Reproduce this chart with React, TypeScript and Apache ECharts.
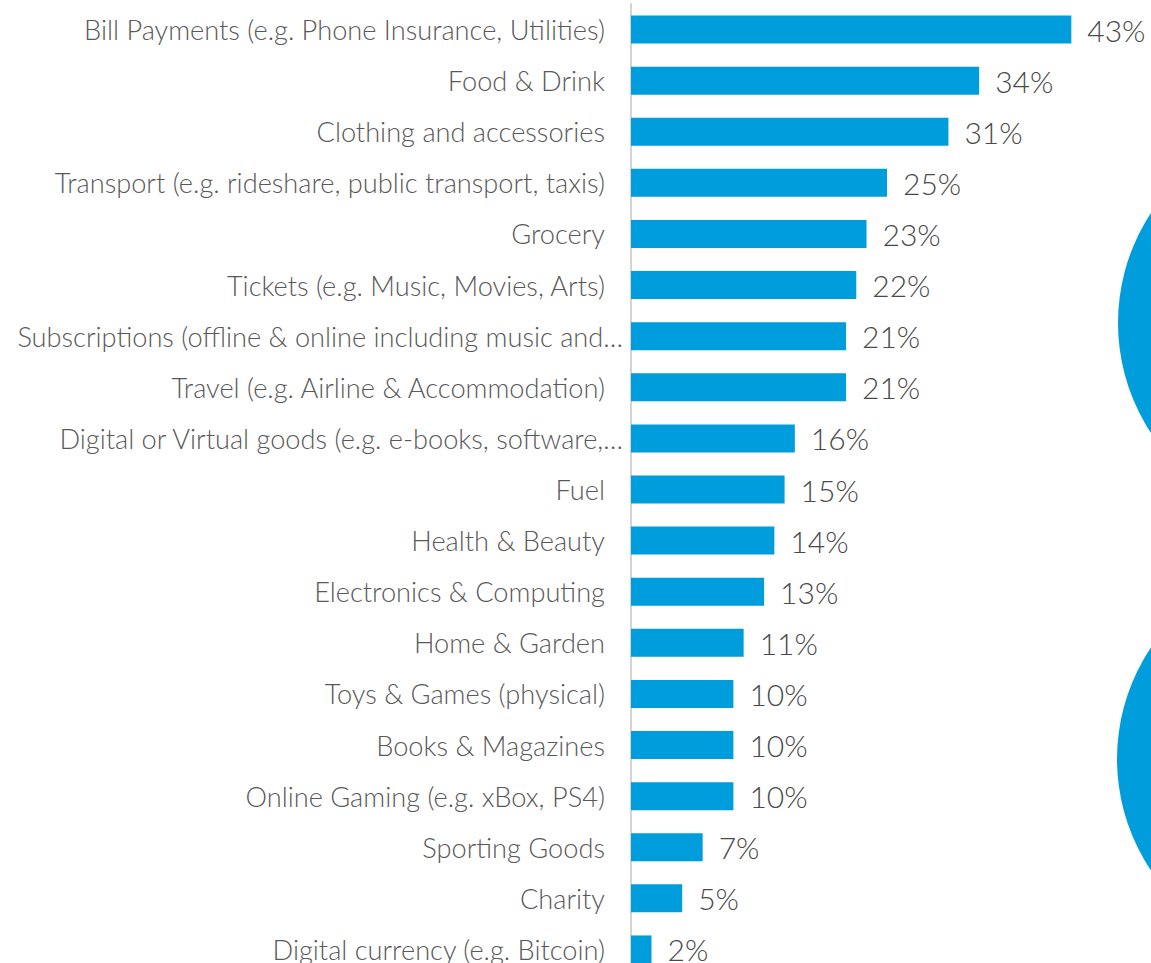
import React, { useEffect, useRef } from "react";
import * as echarts from "echarts";

const categories = [
  "Bill Payments (e.g. Phone Insurance, Utilities)",
  "Food & Drink",
  "Clothing and accessories",
  "Transport (e.g. rideshare, public transport, taxis)",
  "Grocery",
  "Tickets (e.g. Music, Movies, Arts)",
  "Subscriptions (offline & online including music and…",
  "Travel (e.g. Airline & Accommodation)",
  "Digital or Virtual goods (e.g. e-books, software,…",
  "Fuel",
  "Health & Beauty",
  "Electronics & Computing",
  "Home & Garden",
  "Toys & Games (physical)",
  "Books & Magazines",
  "Online Gaming (e.g. xBox, PS4)",
  "Sporting Goods",
  "Charity",
  "Digital currency (e.g. Bitcoin)",
];

const values = [43, 34, 31, 25, 23, 22, 21, 21, 16, 15, 14, 13, 11, 10, 10, 10, 7, 5, 2];

const truncated = new Set([6, 8]);

export default function App() {
  const ref = useRef<HTMLDivElement>(null);
  useEffect(() => {
    if (!ref.current) return;
    const chart = echarts.init(ref.current, null, { renderer: "svg" });
    chart.setOption({
      animation: false,
      grid: { left: 631, top: 4, width: 512, height: 971, containLabel: false },
      xAxis: {
        type: "value",
        min: 0,
        max: 50,
        show: false,
      },
      yAxis: {
        type: "category",
        data: categories,
        inverse: true,
        axisLine: { show: true, lineStyle: { color: "#d4d4d4", width: 2 } },
        axisTick: { show: false },
        axisLabel: {
          margin: 8,
          formatter: (v: string, i: number) =>
            truncated.has(i) ? `{t|${v}}` : `{n|${v}}`,
          rich: {
            n: {
              fontFamily: "Lato",
              fontWeight: 300,
              fontSize: 27.2,
              color: "#595959",
              padding: [0, 18, 0, 0],
            },
            t: {
              fontFamily: "Lato",
              fontWeight: 300,
              fontSize: 27.2,
              color: "#595959",
            },
          },
        },
      },
      series: [
        {
          type: "bar",
          data: values,
          barWidth: 28,
          itemStyle: { color: "#009DDC" },
          label: {
            show: true,
            position: "right",
            distance: 16,
            formatter: "{c}%",
            fontFamily: "Lato",
            fontWeight: 300,
            fontSize: 30,
            color: "#4a4a4a",
          },
        },
      ],
      graphic: [
        {
          type: "circle",
          shape: { cx: 1318, cy: 323, r: 200 },
          style: { fill: "#009DDC" },
          z: 100,
        },
        {
          type: "circle",
          shape: { cx: 1317, cy: 759, r: 200 },
          style: { fill: "#009DDC" },
          z: 100,
        },
      ],
    });
    return () => chart.dispose();
  }, []);
  return (
    <div
      style={{
        position: "fixed",
        left: 0,
        top: 0,
        width: 1151,
        height: 963,
        overflow: "hidden",
        background: "#fff",
      }}
    >
      <div ref={ref} style={{ width: 1151, height: 990 }} />
    </div>
  );
}
